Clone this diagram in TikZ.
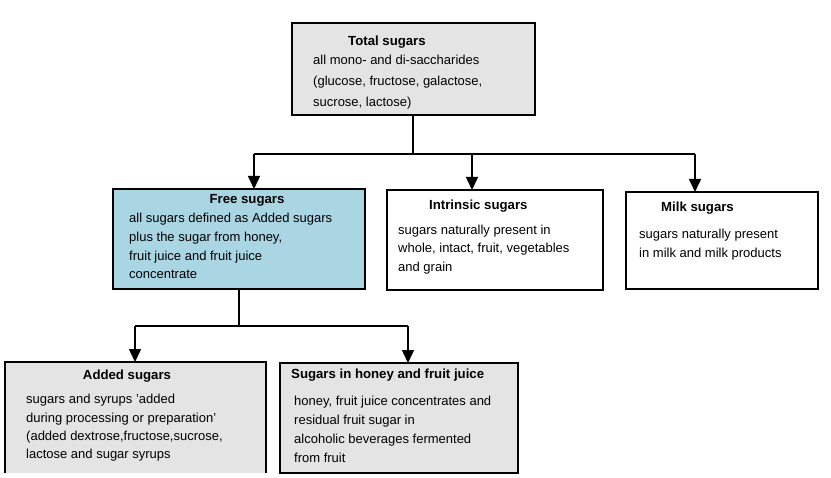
\documentclass[tikz,border=0pt]{standalone}
\usepackage{fontspec}
\setmainfont{Liberation Sans}
\usetikzlibrary{arrows.meta}
\definecolor{boxgray}{RGB}{228,228,228}
\definecolor{boxblue}{RGB}{170,214,228}
\begin{document}
\begin{tikzpicture}[x=1bp,y=-1bp,
  box/.style={draw=black, line width=1.8bp, inner sep=0pt, outer sep=0pt},
  ttl/.style={font=\fontsize{13.2bp}{15bp}\selectfont\bfseries, inner sep=0pt, anchor=base west},
  ttlc/.style={font=\fontsize{13.2bp}{15bp}\selectfont\bfseries, inner sep=0pt, anchor=base},
  txt/.style={font=\fontsize{13bp}{15bp}\selectfont, inner sep=0pt, anchor=base west},
  conn/.style={line width=1.5bp},
  arr/.style={line width=1.5bp, -{Triangle[width=12bp,length=13bp]}}]
\useasboundingbox (0,0) rectangle (831,478);
% boxes
\node[box, fill=boxgray, minimum width=243bp, minimum height=92bp, anchor=north west] (total) at (292,23) {};
\node[box, fill=boxblue, minimum width=252bp, minimum height=100bp, anchor=north west] (free) at (113,189) {};
\node[box, fill=white, minimum width=216bp, minimum height=100bp, anchor=north west] (intr) at (387,190) {};
\node[box, fill=white, minimum width=192bp, minimum height=97bp, anchor=north west] (milk) at (626,192) {};
\fill[boxgray] (5,362) rectangle (266,473);
\draw[line width=1.8bp] (5,473) -- (5,362) -- (266,362) -- (266,473);
\coordinate (added) at (135,362);
\node[box, fill=boxgray, minimum width=238bp, minimum height=110bp, anchor=north west] (honey) at (280,363) {};
% connectors
\coordinate (j1) at (413,154);
\coordinate (jl) at (254,154);
\coordinate (jm) at (472,154);
\coordinate (jr) at (695,154);
\draw[conn] (total.south -| j1) -- (j1);
\draw[conn] (jl) -- (jr);
\draw[arr] (jl) -- (jl |- free.north);
\draw[arr] (jm) -- (jm |- intr.north);
\draw[arr] (jr) -- (jr |- milk.north);
\coordinate (k1) at (239,326);
\coordinate (kl) at (135,326);
\coordinate (kr) at (408,326);
\draw[conn] (free.south -| k1) -- (k1);
\draw[conn] (kl) -- (kr);
\draw[arr] (kl) -- (added);
\draw[arr] (kr) -- (kr |- honey.north);
% texts
\node[ttl] (t0) at (348,46) {Total sugars};
\node[txt] (t1) at (313,65) {all mono- and di-saccharides};
\node[txt] (t2) at (313,86) {(glucose, fructose, galactose,};
\node[txt] (t3) at (313,107) {sucrose, lactose)};
\node[ttlc] (f0) at (247,204) {Free sugars};
\node[txt] (f1) at (129,223) {all sugars defined as Added sugars};
\node[txt] (f2) at (129,242) {plus the sugar from honey,};
\node[txt] (f3) at (129,261) {fruit juice and fruit juice};
\node[txt] (f4) at (129,279) {concentrate};
\node[ttl] (i0) at (429,210) {Intrinsic sugars};
\node[txt] (i1) at (398,235) {sugars naturally present in};
\node[txt] (i2) at (398,253) {whole, intact, fruit, vegetables};
\node[txt] (i3) at (398,272) {and grain};
\node[ttl] (m0) at (661,212) {Milk sugars};
\node[txt] (m1) at (639,239) {sugars naturally present};
\node[txt] (m2) at (639,258) {in milk and milk products};
\node[ttlc] (a0) at (127,379) {Added sugars};
\node[txt] (a1) at (26,403) {sugars and syrups 'added};
\node[txt] (a2) at (26,422) {during processing or preparation'};
\node[txt] (a3) at (26,440) {(added dextrose,fructose,sucrose,};
\node[txt] (a4) at (26,458) {lactose and sugar syrups};
\node[ttl] (h0) at (291,378) {Sugars in honey and fruit juice};
\node[txt] (h1) at (294,405) {honey, fruit juice concentrates and};
\node[txt] (h2) at (294,424) {residual fruit sugar in};
\node[txt] (h3) at (294,443) {alcoholic beverages fermented};
\node[txt] (h4) at (294,462) {from fruit};
\end{tikzpicture}
\end{document}
